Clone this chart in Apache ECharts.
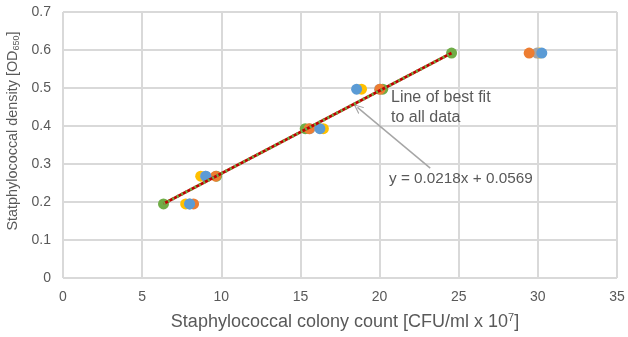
<!DOCTYPE html>
<html><head><meta charset="utf-8">
<script src="https://cdn.jsdelivr.net/npm/echarts@6/dist/echarts.min.js"></script>
<style>html,body{margin:0;padding:0;background:#fff}#c{width:628px;height:337px}</style>
</head><body><div id="c"></div>
<script>
const yLevels = [0.195, 0.268, 0.393, 0.497, 0.592];
const blueX   = [8.0, 9.03, 16.23, 18.55, 30.25];
const orangeX = [8.25, 9.65, 15.55, 20.03, 29.45];
const grayX   = [8.0, 9.0, 15.6, 20.0, 29.95];
const yellowX = [7.75, 8.7, 16.45, 18.86, 30.1];
const greenX  = [6.35, 9.7, 15.3, 20.2, 24.55];
const fitSlope = 0.0218, fitIntercept = 0.0569;
const xTicks = [0,5,10,15,20,25,30,35];
const yTicks = [0,0.1,0.2,0.3,0.4,0.5,0.6,0.7];

const pair = xs => xs.map((x,i)=>[x, yLevels[i]]);
const fx0 = Math.min(...greenX), fx1 = Math.max(...greenX);
const fitData = [[fx0, fitSlope*fx0+fitIntercept],[fx1, fitSlope*fx1+fitIntercept]];

const font = 'Liberation Sans, Arial, sans-serif';
const txt = '#595959';
const sc = (name,color,xs,z)=>({name,type:'scatter',data:pair(xs),symbolSize:11,itemStyle:{color,opacity:1},z});

const chart = echarts.init(document.getElementById('c'),null,{renderer:'canvas'});
chart.setOption({
  animation:false,
  textStyle:{fontFamily:font},
  grid:{left:63,right:11,top:12,bottom:59,containLabel:false,outerBoundsMode:'none'},
  xAxis:{type:'value',min:xTicks[0],max:xTicks[xTicks.length-1],interval:5,
    axisLine:{show:false},axisTick:{show:false},
    splitLine:{lineStyle:{color:'#d9d9d9',width:2}},
    axisLabel:{color:txt,fontSize:14,fontFamily:font,margin:12},
    name:'{a|Staphylococcal colony count [CFU/ml x 10}{s|7}{a|]}',
    nameLocation:'middle',nameGap:34,
    nameTextStyle:{padding:[0,0,0,10],rich:{a:{color:txt,fontSize:18,fontFamily:font},s:{color:txt,fontSize:11,fontFamily:font,verticalAlign:'top',padding:[0,0,9,0]}}}
  },
  yAxis:{type:'value',min:yTicks[0],max:yTicks[yTicks.length-1],interval:0.1,
    axisLine:{show:false},axisTick:{show:false},
    splitLine:{lineStyle:{color:'#d9d9d9',width:2}},
    axisLabel:{color:txt,fontSize:14,fontFamily:font,margin:12,formatter:v=>String(+v.toFixed(1))},
    name:'{a|Statphylococcal density [OD}{s|650}{a|]}',
    nameLocation:'middle',nameGap:41,
    nameTextStyle:{padding:[0,0,0,28],rich:{a:{color:txt,fontSize:14.4,fontFamily:font},s:{color:txt,fontSize:9,fontFamily:font,padding:[7,0,0,0]}}}
  },
  series:[
    sc('green','#70AD47',greenX,2),
    sc('yellow','#FFC000',yellowX,3),
    sc('gray','#A5A5A5',grayX,4),
    sc('orange','#ED7D31',orangeX,5),
    sc('blue','#5B9BD5',blueX,6),
    {type:'line',data:fitData,symbol:'none',lineStyle:{color:'#C00000',width:3},z:7,silent:true},
    {type:'line',data:fitData,symbol:'none',lineStyle:{color:'#70AD47',width:3,type:[2,3]},z:8,silent:true,
     markLine:{silent:true,symbol:['none','path://M0,10 L5,0 L10,10 L8.6,10 L5,2.6 L1.4,10 Z'],symbolSize:[9,10],
       lineStyle:{color:'#a6a6a6',width:1.5,type:'solid'},label:{show:false},
       data:[[{coord:[23.2,0.289]},{coord:[18.6,0.449]}]]}}
  ],
  graphic:[
    {type:'text',x:391,y:98,z:100,style:{text:'Line of best fit',fill:txt,font:'16px '+font,verticalAlign:'middle'}},
    {type:'text',x:391,y:118,z:100,style:{text:'to all data',fill:txt,font:'16px '+font,verticalAlign:'middle'}},
    {type:'text',x:389,y:178.5,z:100,style:{text:'y = 0.0218x + 0.0569',fill:txt,font:'15.3px '+font,verticalAlign:'middle'}}
  ]
});
</script></body></html>
